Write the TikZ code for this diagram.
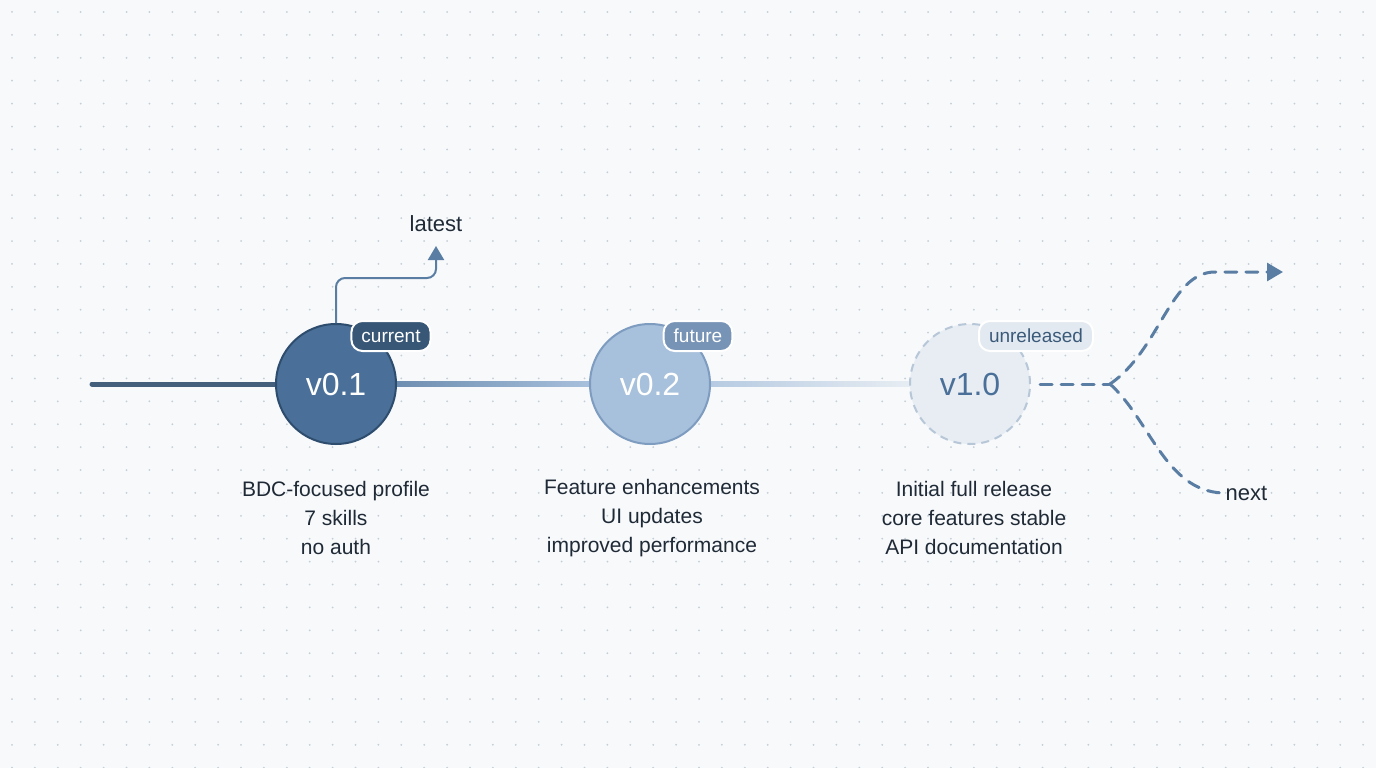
\documentclass[tikz,border=0pt]{standalone}
\usepackage{fontspec}
\setmainfont{Liberation Sans}
\usetikzlibrary{arrows.meta,shapes.geometric}
\definecolor{bg}{HTML}{F7F9FB}
\definecolor{dotc}{HTML}{C5CDD6}
\definecolor{dark}{HTML}{4A7099}
\definecolor{darkb}{HTML}{2E4D6E}
\definecolor{mid}{HTML}{A7C0DC}
\definecolor{midb}{HTML}{7D9CC0}
\definecolor{light}{HTML}{E7EDF3}
\definecolor{lightb}{HTML}{B7C7D8}
\definecolor{dashc}{HTML}{5A7EA3}
\definecolor{txt}{HTML}{1F2A36}
\tikzset{
 ver/.style={circle,minimum size=120pt,inner sep=0pt,line width=2pt,font=\fontsize{32}{32}\selectfont},
 badge/.style={rounded corners=11pt,minimum height=30pt,inner xsep=10pt,draw=white,line width=2pt,font=\fontsize{19}{19}\selectfont},
 desc/.style={align=center,text=txt,font=\fontsize{21}{29}\selectfont},
 dsh/.style={draw=dashc,line width=3pt,dash pattern=on 12pt off 9pt,line cap=round}
}
\begin{document}
\begin{tikzpicture}[x=1pt,y=-1pt]
\fill[bg] (0,0) rectangle (1376,768);
\useasboundingbox (0,0) rectangle (1376,768);
\foreach \i in {0,...,60}{\foreach \j in {0,...,33}{\fill[dotc] (12+\i*22.9,12+\j*22.9) circle (1pt);}}
\draw[darkb!90,line width=5pt,line cap=round] (92,384) -- (336,384);
\shade[left color=dark!90,right color=mid] (336,381.5) rectangle (590,386.5);
\shade[left color=mid,right color=light] (650,381.5) rectangle (910,386.5);
\node[ver,fill=dark,draw=darkb,text=white] (v1) at (336,384) {v0.1};
\node[ver,fill=mid,draw=midb,text=white] (v2) at (650,384) {v0.2};
\node[ver,fill=light,draw=lightb,dash pattern=on 8pt off 6pt,text=dark] (v3) at (970,384) {v1.0};
\node[badge,fill=darkb!95,text=white] (b1) at (391,336) {current};
\node[badge,fill=midb!95!black,text=white] (b2) at (698,336) {future};
\node[badge,fill=light!90!lightb,text=dark!80!black] (b3) at (1036,336) {unreleased};
\coordinate (lt) at (436,246);
\draw[draw=dashc,line width=2pt,rounded corners=9pt,-{Triangle[length=14pt,width=16pt,fill=dashc]}] (v1.north) -- (336,278) -- (436,278) -- (lt);
\node[text=txt,font=\fontsize{22}{22}\selectfont] (latest) at (436,224) {latest};
\coordinate (fork) at (1110,384);
\coordinate (up) at (1283,272);
\node[text=txt,font=\fontsize{22}{22}\selectfont,anchor=west] (next) at (1222,493) {next};
\draw[dsh] (1040,384) -- (fork);
\draw[dsh,-{Triangle[length=16pt,width=18pt,fill=dashc,sep=0pt]}] (fork) .. controls (1160,350) and (1170,272) .. (1215,272) -- (up);
\draw[dsh] (fork) .. controls (1150,420) and (1165,490) .. (next.west);
\node[desc] (d1) at (336,518) {BDC-focused profile\\7 skills\\no auth};
\node[desc] (d2) at (652,518) {Feature enhancements\\UI updates\\improved performance};
\node[desc] (d3) at (974,518) {Initial full release\\core features stable\\API documentation};
\end{tikzpicture}
\end{document}
